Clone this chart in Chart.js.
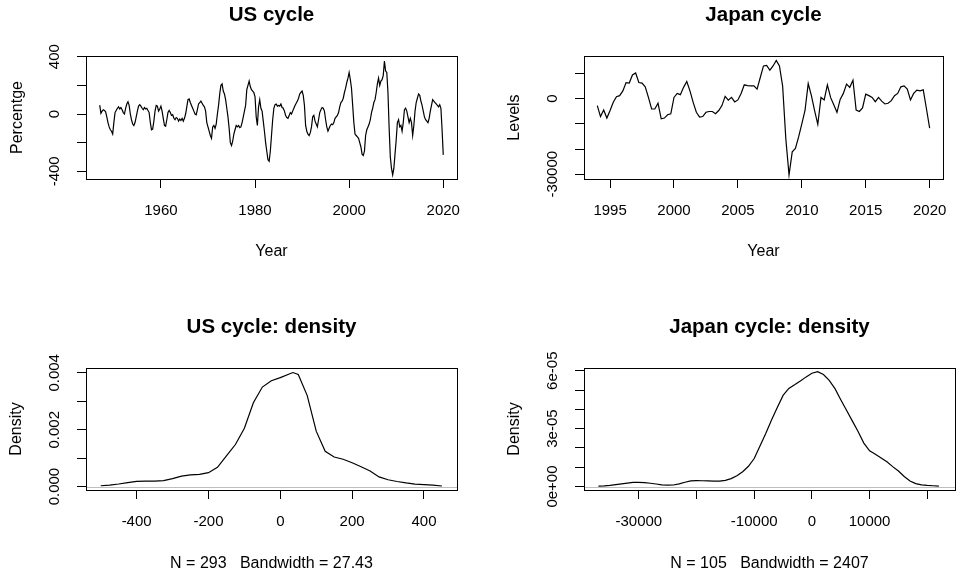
<!DOCTYPE html>
<html>
<head>
<meta charset="utf-8">
<script src="https://cdn.jsdelivr.net/npm/chart.js@4.4.1/dist/chart.umd.min.js"></script>
<style>
  body { margin: 0; background: #fff; }
  #wrap { position: relative; width: 961px; height: 576px; background: #fff; }
  canvas { position: absolute; }
</style>
</head>
<body>
<div id="wrap">
  <canvas id="usCycle" width="480" height="288" style="left:0;top:0"></canvas>
  <canvas id="jpCycle" width="481" height="288" style="left:480px;top:0"></canvas>
  <canvas id="usDens" width="480" height="288" style="left:0;top:288px"></canvas>
  <canvas id="jpDens" width="481" height="288" style="left:480px;top:288px"></canvas>
</div>
<script>
//main Data
//* US cycle, quarterly from 1947 Q1 (one line per year)
const usStart = 1947;
const usValues = [
  62, 5, 20, 30,          // 1947
  25, 15, -20, -60,       // 1948
  -90, -110, -120, -140,  // 1949
  -60, 10, 25, 40,        // 1950
  50, 35, 45, 30,         // 1951
  10, 0, 40, 70,          // 1952
  85, 60, 0, -40,         // 1953
  -70, -80, -60, -20,     // 1954
  20, 55, 65, 55,         // 1955
  40, 30, 45, 35,         // 1956
  40, 25, 10, -60,        // 1957
  -110, -105, -50, 20,    // 1958
  60, 55, 20, 35,         // 1959
  55, 20, -30, -80,       // 1960
  -85, -40, 10, 25,       // 1961
  10, -10, -5, -30,       // 1962
  -40, -25, -30, -50,     // 1963
  -35, -45, -30, -50,     // 1964
  -30, 0, 50, 100,        // 1965
  105, 80, 60, 40,        // 1966
  20, 0, -5, 30,          // 1967
  70, 80, 90, 75,         // 1968
  60, 50, 20, -60,        // 1969
  -90, -120, -150, -170,  // 1970
  -90, -80, -100, -70,    // 1971
  0, 60, 140, 200,        // 1972
  210, 160, 140, 100,     // 1973
  40, -20, -100, -200,    // 1974
  -220, -190, -140, -110, // 1975
  -80, -90, -80, -95,     // 1976
  -90, -60, -20, 20,      // 1977
  60, 170, 200, 230,      // 1978
  190, 170, 160, 150,     // 1979
  120, -20, -80, 50,      // 1980
  100, 40, 20, -50,       // 1981
  -120, -200, -260, -320, // 1982
  -330, -260, -150, -40,  // 1983
  40, 65, 70, 55,         // 1984
  60, 55, 70, 45,         // 1985
  40, 20, -10, -25,       // 1986
  -30, -10, 10, 0,        // 1987
  20, 40, 60, 75,         // 1988
  90, 110, 140, 150,      // 1989
  160, 130, 60, -80,      // 1990
  -120, -140, -150, -130, // 1991
  -90, -20, -10, -50,     // 1992
  -70, -90, -40, 10,      // 1993
  30, 45, 40, 20,         // 1994
  -40, -90, -120, -100,   // 1995
  -80, -70, -75, -60,     // 1996
  -30, -20, -10, 10,      // 1997
  50, 80, 90, 110,        // 1998
  150, 180, 220, 250,     // 1999
  290, 240, 180, 60,      // 2000
  -60, -140, -150, -160,  // 2001
  -170, -200, -230, -280, // 2002
  -290, -260, -150, -110, // 2003
  -90, -70, -40, 10,      // 2004
  40, 80, 100, 150,       // 2005
  210, 250, 200, 230,     // 2006
  240, 270, 370, 300,     // 2007
  290, 150, -100, -300,   // 2008
  -380, -425, -380, -280, // 2009
  -180, -60, -40, -90,    // 2010
  -80, -120, -60, 30,     // 2011
  40, 20, -20, -60,       // 2012
  -30, -60, -150, -80,    // 2013
  20, 80, 110, 140,       // 2014
  130, 90, 60, 20,        // 2015
  -20, -40, -50, -60,     // 2016
  -30, 20, 60, 100,       // 2017
  90, 80, 70, 60,         // 2018
  50, 65, 40, -110,       // 2019
  -285                    // 2020
];

//* Japan cycle, quarterly from 1994 Q1
const jpStart = 1994;
const jpValues = [
  -2750, -7100, -4500, -7700,    // 1994
  -4700, -1450, 800, 1200,       // 1995
  3100, 6400, 6200, 9400,        // 1996
  10200, 6400, 6200, 4700,       // 1997
  500, -4100, -4100, -1800,      // 1998
  -8000, -7700, -6400, -6000,    // 1999
  500, 2100, 1600, 4500,         // 2000
  6800, 3100, -1450, -5400,      // 2001
  -7300, -7100, -5400, -5100,    // 2002
  -5100, -6000, -4700, -2750,    // 2003
  900, -600, 500, -1300,         // 2004
  -500, 2100, 5500, 5200,        // 2005
  5100, 5100, 3800, 8400,        // 2006
  13000, 13200, 11300, 13000,    // 2007
  15200, 13000, 5000, -16000,    // 2008
  -30300, -21100, -19800, -15200,// 2009
  -10000, -4700, 6000, 1200,     // 2010
  -4700, -10200, 500, -500,      // 2011
  5500, 500, -2400, -5400,       // 2012
  -300, 2100, 5800, 4500,        // 2013
  7300, -4500, -5100, -3700,     // 2014
  1800, 1200, 500, -1200,        // 2015
  500, -1000, -2100, -1800,      // 2016
  -800, 1200, 2100, 4700,        // 2017
  5100, 3800, -500, 2100,        // 2018
  3400, 3100, 3500, -4000,       // 2019
  -11700                         // 2020
];

//* US cycle: density curve
const usDensX = [-500, -475, -450, -425, -400, -375, -350, -325, -300, -275, -250, -225, -200, -175, -150, -125, -100, -75, -50, -25, 0, 25, 35, 50, 75, 100, 125, 150, 175, 200, 225, 250, 275, 300, 325, 350, 375, 400, 425, 450];
const usDensY = [0.00003, 0.00005, 0.00009, 0.00014, 0.00018, 0.00019, 0.00019, 0.00021, 0.00028, 0.00037, 0.00041, 0.00043, 0.00049, 0.00068, 0.00108, 0.00148, 0.00205, 0.00295, 0.00350, 0.00372, 0.00383, 0.00396, 0.00401, 0.00394, 0.00320, 0.00195, 0.00124, 0.00104, 0.00096, 0.00084, 0.00070, 0.00055, 0.00034, 0.00024, 0.00018, 0.00013, 0.00009, 0.00007, 0.00005, 0.00002];

//* Japan cycle: density curve
const jpDensX = [-37000, -36000, -35000, -34000, -33000, -32000, -31000, -30000, -29000, -28000, -27000, -26000, -25000, -24000, -23000, -22000, -21000, -20000, -19000, -18000, -17000, -16000, -15000, -14000, -13000, -12000, -11000, -10000, -9000, -8000, -7000, -6000, -5000, -4000, -3000, -2000, -1000, 0, 1000, 2000, 3000, 4000, 5000, 6000, 7000, 8000, 9000, 10000, 11000, 12000, 13000, 14000, 15000, 16000, 17000, 18000, 19000, 20000, 21000, 22000];
const jpDensY = [2e-7, 3e-7, 6e-7, 1.0e-6, 1.4e-6, 1.8e-6, 2.1e-6, 2.2e-6, 2.0e-6, 1.7e-6, 1.3e-6, 0.9e-6, 0.7e-6, 0.8e-6, 1.4e-6, 2.2e-6, 2.9e-6, 3.1e-6, 3.0e-6, 2.9e-6, 2.8e-6, 2.8e-6, 3.2e-6, 4.1e-6, 5.6e-6, 7.7e-6, 1.05e-5, 1.45e-5, 2.1e-5, 2.75e-5, 3.45e-5, 4.1e-5, 4.72e-5, 5.08e-5, 5.27e-5, 5.47e-5, 5.68e-5, 5.87e-5, 5.95e-5, 5.8e-5, 5.5e-5, 5.07e-5, 4.5e-5, 3.95e-5, 3.4e-5, 2.85e-5, 2.25e-5, 1.85e-5, 1.67e-5, 1.48e-5, 1.28e-5, 1.03e-5, 8.0e-6, 5.2e-6, 2.9e-6, 1.5e-6, 9e-7, 6e-7, 4e-7, 2e-7];

//* Ticks (all marks) and the ones that carry a label
const usYearTicks = [1960, 1980, 2000, 2020];
const usLevelTicks = [-400, -200, 0, 200, 400];
const usLevelLabels = [-400, 0, 400];
const jpYearTicks = [1995, 2000, 2005, 2010, 2015, 2020];
const jpLevelTicks = [-30000, -20000, -10000, 0, 10000];
const jpLevelLabels = [-30000, 0];
const usDensXTicks = [-400, -200, 0, 200, 400];
const usDensYTicks = [0, 0.001, 0.002, 0.003, 0.004];
const usDensYLabels = [0, 0.002, 0.004];
const jpDensXTicks = [-30000, -20000, -10000, 0, 10000, 20000];
const jpDensXLabels = [-30000, -10000, 0, 10000];
const jpDensYTicks = [0, 1e-5, 2e-5, 3e-5, 4e-5, 5e-5, 6e-5];
const jpDensYLabels = [0, 3e-5, 6e-5];

//* Time axis of the quarterly series
const usYears = usValues.map((v, i) => usStart + i / 4);
const jpYears = jpValues.map((v, i) => jpStart + i / 4);

//main Style
const fam = "'Liberation Sans', Arial, Helvetica, sans-serif";
Chart.defaults.font.family = fam;
Chart.defaults.color = '#000';

//* Medimos el ancho de las etiquetas del eje y (para centrarlas giradas)
const meas = document.createElement('canvas').getContext('2d');
function widest(labels) {
  meas.font = '15px ' + fam;
  return Math.max(...labels.map(t => meas.measureText(t).width));
}

//* Formatos de etiquetas estilo R
const fmtPlain = v => String(v);
const fmtFixed3 = v => v.toFixed(3);
const fmtExp = v => {
  const parts = v.toExponential(0).split('e');
  const n = parseInt(parts[1], 10);
  return parts[0] + 'e' + (n < 0 ? '-' : '+') + String(Math.abs(n)).padStart(2, '0');
};

//* Caja alrededor del área del gráfico (box() de R)
const plotBox = {
  id: 'plotBox',
  afterDraw(chart) {
    const { ctx, chartArea: a } = chart;
    ctx.save();
    ctx.strokeStyle = '#000';
    ctx.lineWidth = 1;
    ctx.strokeRect(Math.round(a.left) + 0.5, Math.round(a.top) + 0.5,
      Math.round(a.right) - Math.round(a.left), Math.round(a.bottom) - Math.round(a.top));
    ctx.restore();
  }
};

//* Línea gris en y = 0 para las densidades
const zeroLine = {
  id: 'zeroLine',
  afterDatasetsDraw(chart, args, opts) {
    if (!opts.show) return;
    const { ctx, chartArea: a } = chart;
    const y = Math.round(chart.scales.y.getPixelForValue(0)) + 0.5;
    ctx.save();
    ctx.strokeStyle = '#bebebe';
    ctx.lineWidth = 1;
    ctx.beginPath();
    ctx.moveTo(a.left, y);
    ctx.lineTo(a.right, y);
    ctx.stroke();
    ctx.restore();
  }
};

//funcion Dibuja un panel
function panel(id, p) {
  const yShown = p.yTicks.map(v => p.yLabels.includes(v) ? p.yFmt(v) : '');
  const yPad = p.yGap - 9 - widest(yShown) / 2;
  return new Chart(document.getElementById(id), {
    type: 'line',
    data: {
      datasets: [{
        data: p.xs.map((x, i) => ({ x: x, y: p.ys[i] })),
        borderColor: '#000',
        borderWidth: 1.2,
        pointRadius: 0,
        tension: 0,
        fill: false
      }]
    },
    options: {
      responsive: false,
      animation: false,
      events: [],
      layout: { padding: { left: 0, right: p.right, top: 0, bottom: 0 } },
      plugins: {
        legend: { display: false },
        tooltip: { enabled: false },
        title: {
          display: true,
          text: p.title,
          fullSize: false,
          color: '#000',
          font: { size: 20.5, weight: 'bold' },
          padding: { top: p.titleTop, bottom: p.titleBottom }
        },
        zeroLine: { show: !!p.zero }
      },
      scales: {
        x: {
          type: 'linear',
          bounds: 'data',
          min: p.xMin,
          max: p.xMax,
          afterBuildTicks: s => { s.ticks = p.xTicks.map(v => ({ value: v })); },
          afterFit: s => { s.height = p.xHeight; },
          grid: { drawOnChartArea: false, drawTicks: true, tickLength: 9, tickColor: '#000', lineWidth: 1 },
          border: { display: false },
          ticks: {
            autoSkip: false,
            maxRotation: 0,
            padding: 14,
            color: '#000',
            font: { size: 15 },
            callback: v => p.xLabels.includes(v) ? fmtPlain(v) : ''
          },
          title: {
            display: true,
            text: p.xTitle,
            color: '#000',
            font: { size: 16 },
            padding: { top: 0, bottom: p.xTitlePad }
          }
        },
        y: {
          type: 'linear',
          bounds: 'data',
          min: p.yMin,
          max: p.yMax,
          afterBuildTicks: s => { s.ticks = p.yTicks.map(v => ({ value: v })); },
          afterFit: s => { s.width = p.yWidth; },
          grid: { drawOnChartArea: false, drawTicks: true, tickLength: 9, tickColor: '#000', lineWidth: 1 },
          border: { display: false },
          ticks: {
            autoSkip: false,
            minRotation: 90,
            maxRotation: 90,
            crossAlign: 'center',
            padding: yPad,
            color: '#000',
            font: { size: 15 },
            callback: v => p.yLabels.includes(v) ? p.yFmt(v) : ''
          },
          title: {
            display: true,
            text: p.yTitle,
            color: '#000',
            font: { size: 16 },
            padding: { top: p.yTitlePad, bottom: 0 }
          }
        }
      }
    },
    plugins: [plotBox, zeroLine]
  });
}

//* US cycle
panel('usCycle', {
  xs: usYears, ys: usValues, title: 'US cycle', xTitle: 'Year', yTitle: 'Percentge',
  xMin: 1944.08, xMax: 2022.92, yMin: -453.5, yMax: 404.7,
  xTicks: usYearTicks, xLabels: usYearTicks, yTicks: usLevelTicks, yLabels: usLevelLabels, yFmt: fmtPlain,
  right: 23, yWidth: 86, titleTop: 2.7, titleBottom: 28.7, xHeight: 109, xTitlePad: 26.4, yTitlePad: 7.9, yGap: 31
});

//* Japan cycle
panel('jpCycle', {
  xs: jpYears, ys: jpValues, title: 'Japan cycle', xTitle: 'Year', yTitle: 'Levels',
  xMin: 1992.96, xMax: 2021.04, yMin: -31900, yMax: 16950,
  xTicks: jpYearTicks, xLabels: jpYearTicks, yTicks: jpLevelTicks, yLabels: jpLevelLabels, yFmt: fmtPlain,
  right: 6, yWidth: 104, titleTop: 2.7, titleBottom: 28.7, xHeight: 109, xTitlePad: 26.4, yTitlePad: 24.9, yGap: 31
});

//* US cycle: density
panel('usDens', {
  xs: usDensX, ys: usDensY, title: 'US cycle: density', xTitle: 'N = 293   Bandwidth = 27.43', yTitle: 'Density',
  xMin: -541, xMax: 492, yMin: -0.00012, yMax: 0.00417, zero: true,
  xTicks: usDensXTicks, xLabels: usDensXTicks, yTicks: usDensYTicks, yLabels: usDensYLabels, yFmt: fmtFixed3,
  right: 23, yWidth: 86, titleTop: 26.7, titleBottom: 28.7, xHeight: 86, xTitlePad: 3.1, yTitlePad: 7.4, yGap: 31
});

//* Japan cycle: density
panel('jpDens', {
  xs: jpDensX, ys: jpDensY, title: 'Japan cycle: density', xTitle: 'N = 105   Bandwidth = 2407', yTitle: 'Density',
  xMin: -39500, xMax: 24800, yMin: -0.0000018, yMax: 0.0000614, zero: true,
  xTicks: jpDensXTicks, xLabels: jpDensXLabels, yTicks: jpDensYTicks, yLabels: jpDensYLabels, yFmt: fmtExp,
  right: 6, yWidth: 104, titleTop: 26.7, titleBottom: 28.7, xHeight: 86, xTitlePad: 3.1, yTitlePad: 25.4, yGap: 31
});
</script>
</body>
</html>
